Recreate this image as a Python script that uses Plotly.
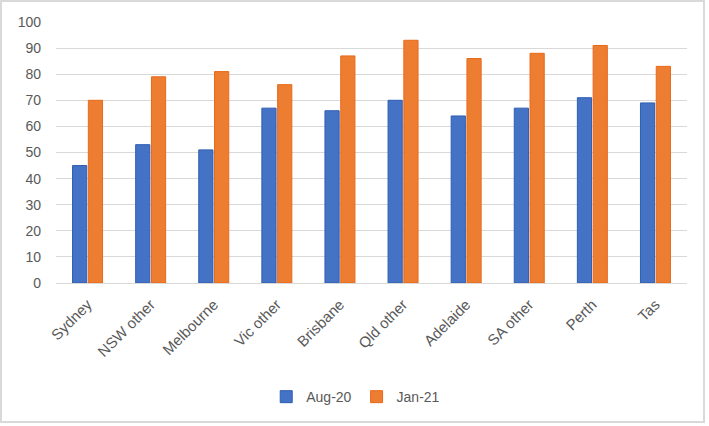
import plotly.graph_objects as go

categories = ["Sydney", "NSW other", "Melbourne", "Vic other", "Brisbane",
              "Qld other", "Adelaide", "SA other", "Perth", "Tas"]
aug20 = [45, 53, 51, 67, 66, 70, 64, 67, 71, 69]
jan21 = [70, 79, 81, 76, 87, 93, 86, 88, 91, 83]
y_ticks = [0, 10, 20, 30, 40, 50, 60, 70, 80, 90, 100]

W, H = 709, 426
ml, mr, mt, mb = 56, 22, 22, 143

fig = go.Figure()
fig.add_trace(go.Bar(x=categories, y=aug20, name="Aug-20",
                     marker=dict(color="#4472C4", line=dict(color="#2F5DB3", width=1))))
fig.add_trace(go.Bar(x=categories, y=jan21, name="Jan-21",
                     marker=dict(color="#ED7D31", line=dict(color="#E8691A", width=1))))

pw, ph = W - ml - mr, H - mt - mb
fig.add_shape(type="rect", xref="paper", yref="paper",
              x0=-(ml - 1) / pw, x1=1 + (mr - 5) / pw,
              y0=-(mb - 4) / ph, y1=1 + (mt - 1) / ph,
              line=dict(color="#D9D9D9", width=2), layer="below")

fig.update_layout(
    width=W, height=H,
    margin=dict(l=ml, r=mr, t=mt, b=mb, autoexpand=False),
    paper_bgcolor="white", plot_bgcolor="white",
    barmode="group", bargap=0.5, bargroupgap=0.1,
    font=dict(family="Liberation Sans, Arial", size=14, color="#595959"),
    showlegend=True,
    legend=dict(orientation="h", x=0.475, xanchor="center", y=-0.437, yanchor="middle",
                font=dict(size=14, color="#595959"), itemwidth=30,
                traceorder="normal"),
    xaxis=dict(tickangle=-45, showgrid=False, showline=True, linecolor="#D9D9D9",
               linewidth=1, ticks="", automargin=False, ticklabelstandoff=6,
               tickfont=dict(size=15, color="#595959")),
    yaxis=dict(range=[0, 100], tickvals=y_ticks, showgrid=True, gridcolor="#D9D9D9",
               gridwidth=1, zeroline=False, showline=False, ticks="", automargin=False,
               ticklabelstandoff=14, tickfont=dict(size=14, color="#595959")),
)

fig.write_html("out.html", config={"displayModeBar": False},
               post_script="document.body.style.margin='0';")
